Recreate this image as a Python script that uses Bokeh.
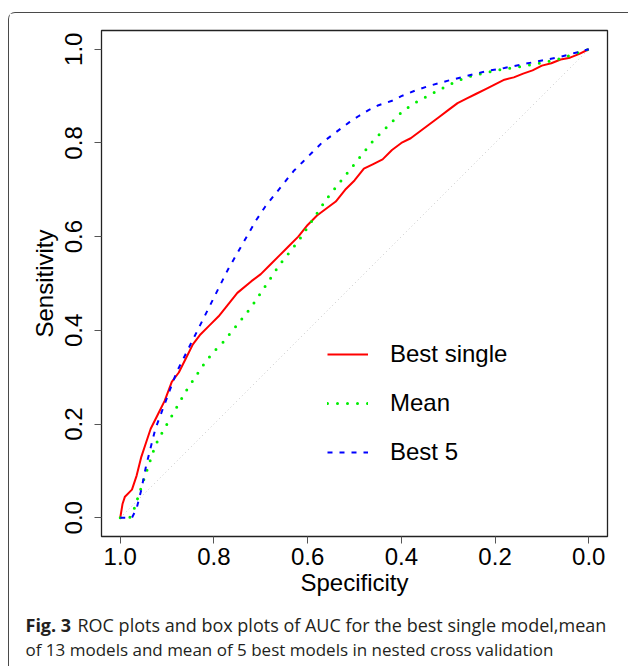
from bokeh.plotting import figure
from bokeh.layouts import column
from bokeh.models import (Range1d, FixedTicker, PrintfTickFormatter, Legend, LegendItem, Label)
from bokeh.embed import file_html
from bokeh.resources import INLINE

# ---- data ----
red_spec = [1.0, 0.995, 0.99, 0.975, 0.965, 0.955, 0.945, 0.935, 0.92, 0.905, 0.89, 0.875, 0.86,
            0.845, 0.83, 0.81, 0.79, 0.77, 0.75, 0.72, 0.70, 0.68, 0.66, 0.64, 0.62, 0.60, 0.58,
            0.56, 0.54, 0.52, 0.50, 0.48, 0.46, 0.44, 0.42, 0.40, 0.38, 0.36, 0.34, 0.32, 0.30,
            0.28, 0.26, 0.24, 0.22, 0.20, 0.18, 0.16, 0.14, 0.12, 0.10, 0.08, 0.06, 0.04, 0.02, 0.0]
red_sens = [0.0, 0.03, 0.045, 0.06, 0.09, 0.13, 0.16, 0.19, 0.22, 0.25, 0.29, 0.31, 0.34,
            0.37, 0.39, 0.41, 0.43, 0.455, 0.48, 0.505, 0.52, 0.54, 0.56, 0.58, 0.60, 0.625, 0.645,
            0.66, 0.675, 0.70, 0.72, 0.745, 0.755, 0.765, 0.785, 0.80, 0.81, 0.825, 0.84, 0.855, 0.87,
            0.885, 0.895, 0.905, 0.915, 0.925, 0.935, 0.94, 0.948, 0.955, 0.965, 0.97, 0.978, 0.982, 0.99, 1.0]

green_spec = [1.0, 0.98, 0.97, 0.96, 0.95, 0.94, 0.93, 0.92, 0.90, 0.88, 0.86, 0.84, 0.82, 0.80,
              0.78, 0.76, 0.74, 0.72, 0.70, 0.68, 0.66, 0.64, 0.62, 0.60, 0.58, 0.56, 0.54, 0.52,
              0.50, 0.48, 0.46, 0.44, 0.42, 0.40, 0.38, 0.36, 0.34, 0.32, 0.30, 0.28, 0.25, 0.22,
              0.18, 0.14, 0.10, 0.06, 0.03, 0.0]
green_sens = [0.0, 0.0, 0.02, 0.05, 0.08, 0.11, 0.14, 0.165, 0.20, 0.235, 0.27, 0.30, 0.33, 0.355,
              0.375, 0.40, 0.425, 0.45, 0.48, 0.51, 0.54, 0.565, 0.59, 0.62, 0.65, 0.68, 0.705, 0.73,
              0.755, 0.78, 0.805, 0.825, 0.845, 0.865, 0.88, 0.892, 0.902, 0.913, 0.923, 0.933, 0.943, 0.95,
              0.958, 0.964, 0.971, 0.98, 0.99, 1.0]

blue_spec = [1.0, 0.975, 0.965, 0.955, 0.945, 0.935, 0.925, 0.91, 0.895, 0.88, 0.86, 0.845, 0.83,
             0.81, 0.79, 0.77, 0.75, 0.73, 0.71, 0.69, 0.67, 0.65, 0.63, 0.61, 0.59, 0.57, 0.55,
             0.53, 0.51, 0.49, 0.47, 0.45, 0.42, 0.40, 0.37, 0.34, 0.30, 0.26, 0.22, 0.18, 0.14,
             0.10, 0.06, 0.03, 0.0]
blue_sens = [0.0, 0.0, 0.02, 0.06, 0.11, 0.15, 0.19, 0.23, 0.27, 0.31, 0.35, 0.38, 0.41,
             0.45, 0.49, 0.53, 0.565, 0.60, 0.635, 0.665, 0.69, 0.715, 0.74, 0.76, 0.78, 0.80, 0.815,
             0.83, 0.845, 0.858, 0.87, 0.88, 0.89, 0.90, 0.912, 0.922, 0.933, 0.943, 0.953, 0.96, 0.968,
             0.976, 0.984, 0.992, 1.0]

diag_spec = [1.0, 0.0]
diag_sens = [0.0, 1.0]

tick_values = [0.0, 0.2, 0.4, 0.6, 0.8, 1.0]
series_labels = ["Best single", "Mean", "Best 5"]
x_title = "Specificity"
y_title = "Sensitivity"
caption_bold = "Fig. 3"
caption_line1 = "ROC plots and box plots of AUC for the best single model,mean"
caption_line2 = "of 13 models and mean of 5 best models in nested cross validation"

FONT = "Liberation Sans"
FS = "24px"

p = figure(frame_width=506, frame_height=506, output_backend="svg", toolbar_location=None,
           x_range=Range1d(1.04, -0.04), y_range=Range1d(-0.04, 1.04),
           min_border_left=92, min_border_right=21, min_border_top=17, min_border_bottom=95)
p.frame_align = False
p.background_fill_color = "white"
p.border_fill_color = "white"
p.outline_line_color = "#222222"
p.outline_line_width = 1.3
p.xgrid.visible = False
p.ygrid.visible = False

for ax in (p.xaxis[0], p.yaxis[0]):
    ax.ticker = FixedTicker(ticks=tick_values)
    ax.formatter = PrintfTickFormatter(format="%.1f")
    ax.minor_tick_line_color = None
    ax.major_tick_in = 0
    ax.major_tick_out = 7
    ax.major_tick_line_color = "#555555"
    ax.axis_line_color = None
    ax.major_label_text_font = FONT
    ax.major_label_text_font_size = FS
    ax.major_label_text_color = "black"
    ax.axis_label_text_font = FONT
    ax.axis_label_text_font_size = FS
    ax.axis_label_text_font_style = "normal"
    ax.axis_label_text_color = "black"

p.xaxis.axis_label = x_title
p.yaxis.axis_label = y_title
p.xaxis.major_label_standoff = 4
p.xaxis.axis_label_standoff = 1
p.yaxis.major_label_orientation = "vertical"
p.yaxis.major_label_standoff = 12
p.yaxis.axis_label_standoff = 5

p.line(diag_spec, diag_sens, line_color="#c8c8c8", line_width=1, line_dash="1 3")
r_red = p.line(red_spec, red_sens, line_color="#ff0000", line_width=2)
r_green = p.line(green_spec, green_sens, line_color="#00ee00", line_width=3, line_dash="0 10",
                 line_cap="round")
r_blue = p.line(blue_spec, blue_sens, line_color="#0000ff", line_width=2, line_dash="5 7")

legend = Legend(items=[LegendItem(label=series_labels[0], renderers=[r_red]),
                       LegendItem(label=series_labels[1], renderers=[r_green]),
                       LegendItem(label=series_labels[2], renderers=[r_blue])],
                location=(226, 70), border_line_color=None, background_fill_alpha=0,
                label_text_font=FONT, label_text_font_size=FS, label_text_color="black",
                glyph_width=41, glyph_height=24, label_height=24, spacing=21,
                padding=0, margin=0, label_standoff=22)
p.add_layout(legend, "center")

# caption strip (its own figure; frame covers the whole strip)
cap = figure(width=619, height=62, output_backend="svg", toolbar_location=None,
             x_range=Range1d(0, 619), y_range=Range1d(62, 0),
             x_axis_location=None, y_axis_location=None,
             min_border_left=0, min_border_right=0, min_border_top=0, min_border_bottom=0)
cap.frame_align = False
cap.margin = (-27, 0, 0, 0)
cap.outline_line_color = None
cap.xgrid.visible = False
cap.ygrid.visible = False
cap.background_fill_color = "white"
cap.border_fill_color = "white"

CAP_FONT = "Open Sans"
CAP_COLOR = "#231f20"
cap.add_layout(Label(x=16, y=20, text=caption_bold, text_font=CAP_FONT, text_font_style="bold",
                     text_font_size="18px", text_color=CAP_COLOR, text_baseline="alphabetic"))
cap.add_layout(Label(x=68, y=20, text=caption_line1, text_font=CAP_FONT,
                     text_font_size="18px", text_color=CAP_COLOR, text_baseline="alphabetic"))
cap.add_layout(Label(x=16, y=45, text=caption_line2, text_font=CAP_FONT,
                     text_font_size="17px", text_color=CAP_COLOR, text_baseline="alphabetic"))

layout = column(p, cap, spacing=0,
                styles={"margin-left": "8px", "margin-top": "12px",
                        "border-left": "1.4px solid #4a4a4a", "border-top": "1.4px solid #4a4a4a",
                        "border-top-left-radius": "7px", "background-color": "white"})

open("out.html", "w").write(file_html(layout, INLINE))
